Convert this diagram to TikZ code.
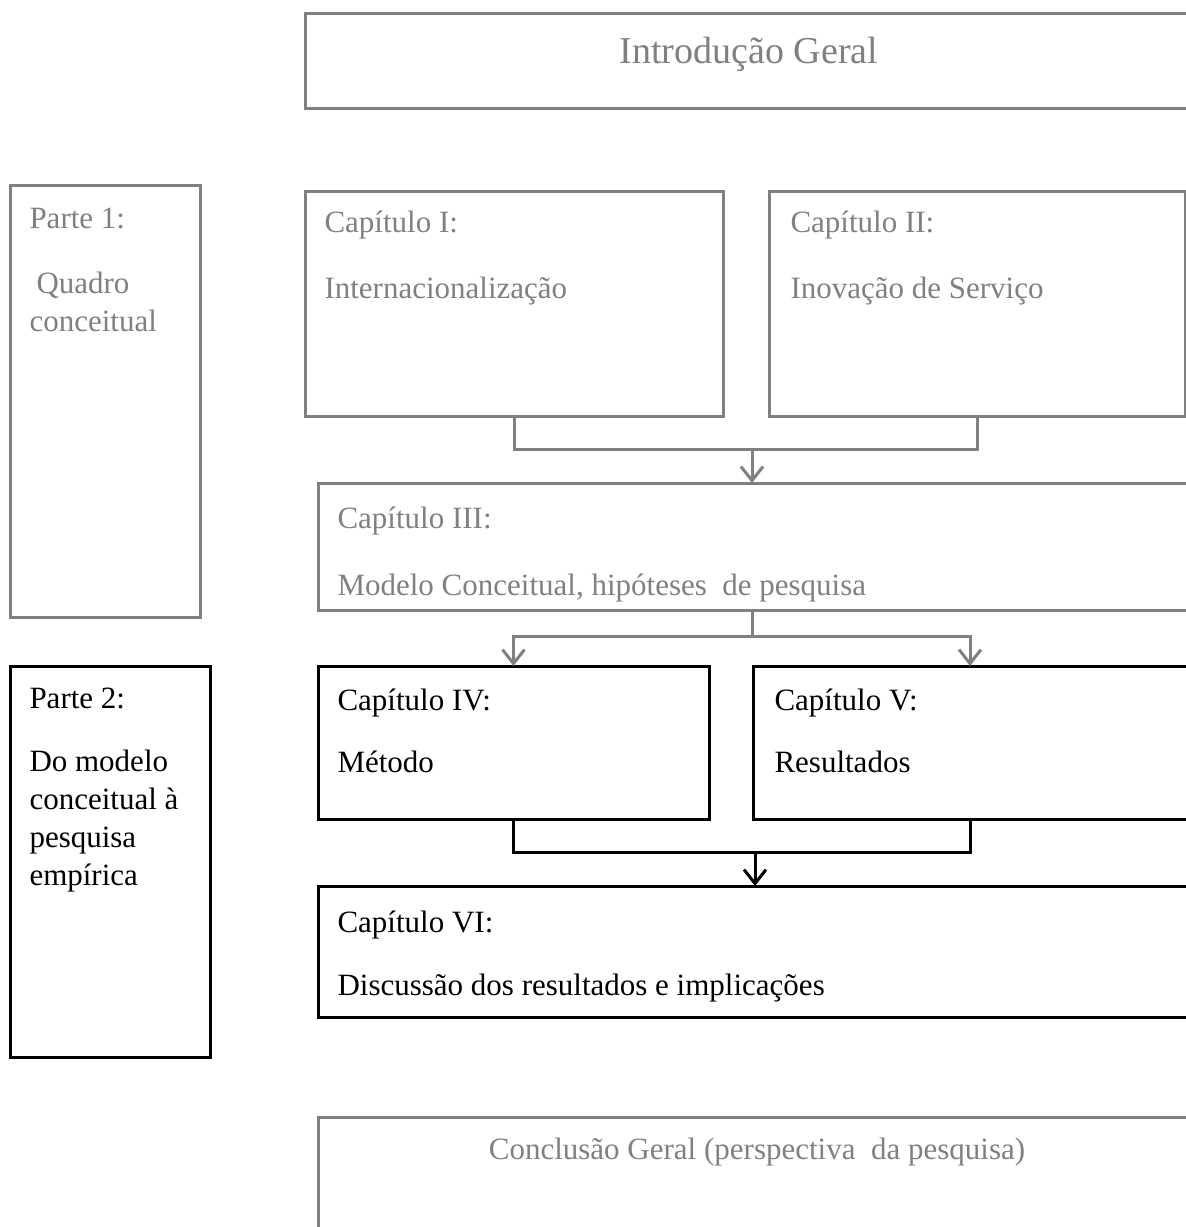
\documentclass[tikz,border=0pt]{standalone}
\usepackage{fontspec}
\setmainfont{Liberation Serif}
\usetikzlibrary{positioning,arrows.meta}
\definecolor{boxgray}{HTML}{808080}

\begin{document}
\begin{tikzpicture}[x=1pt,y=-1pt,line width=3pt,
                >={Straight Barb[length=14pt,width=22pt]},
                gray box/.style={rectangle,draw=boxgray,inner sep=0pt,outer sep=0pt,anchor=north west},
                black box/.style={rectangle,draw=black,inner sep=0pt,outer sep=0pt,anchor=north west},
                txt/.style={anchor=base west,inner sep=0pt,align=left,font=\fontsize{31}{38}\selectfont}]

  \clip (0,0) rectangle (1186,1227);

  \node[gray box,minimum width=950pt,minimum height=95pt] (intro) at (305,13) {};
  \node[gray box,minimum width=190pt,minimum height=432pt] (p1) at (10,185) {};
  \node[gray box,minimum width=418pt,minimum height=225pt] (c1) at (305,191) {};
  \node[gray box,minimum width=416pt,minimum height=225pt] (c2) at (769,191) {};
  \node[gray box,minimum width=900pt,minimum height=127pt] (c3) at (318,483) {};
  \node[black box,minimum width=200pt,minimum height=391pt] (p2) at (10,666) {};
  \node[black box,minimum width=391pt,minimum height=153pt] (c4) at (318,666) {};
  \node[black box,minimum width=434pt,minimum height=153pt] (c5) at (753,666) {};
  \node[black box,minimum width=900pt,minimum height=131pt] (c6) at (318,886) {};
  \node[gray box,minimum width=900pt,minimum height=200pt] (concl) at (318,1117) {};

  \node[txt,anchor=base,text=boxgray,font=\fontsize{38}{44}\selectfont] (tintro) at (749,63) {Introdução Geral};
  \node[txt,text=boxgray] (tp1) at (28,331) {Parte 1:\\[27pt]\hspace{7pt}Quadro\\conceitual};
  \node[txt,text=boxgray] (tc1) at (323,298) {Capítulo I:\\[28pt]Internacionalização};
  \node[txt,text=boxgray] (tc2) at (789,298) {Capítulo II:\\[28pt]Inovação de Serviço};
  \node[txt,text=boxgray] (tc3) at (336,595) {Capítulo III:\\[29pt]Modelo Conceitual, hipóteses\ \ de pesquisa};
  \node[txt] (tp2) at (28,885) {Parte 2:\\[25pt]Do modelo\\conceitual à\\pesquisa\\empírica};
  \node[txt] (tc4) at (336,772) {Capítulo IV:\\[24pt]Método};
  \node[txt] (tc5) at (773,772) {Capítulo V:\\[24pt]Resultados};
  \node[txt] (tc6) at (336,995) {Capítulo VI:\\[25pt]Discussão dos resultados e implicações};
  \node[txt,anchor=base,text=boxgray] (tconcl) at (757,1159) {Conclusão Geral (perspectiva\ \ da pesquisa)};

  \coordinate (j1) at (752,449);
  \coordinate (j2) at (752,636);
  \coordinate (j3) at (755,852);

  \draw[boxgray] (c1.south) |- (j1) -| (c2.south);
  \draw[boxgray,->] (j1) -- (j1 |- c3.north);
  \draw[boxgray] (j2 |- c3.south) -- (j2);
  \draw[boxgray,->] (j2) -| (c4.north);
  \draw[boxgray,->] (j2) -| (c5.north);
  \draw (c4.south) |- (j3) -| (c5.south);
  \draw[->] (j3) -- (j3 |- c6.north);
\end{tikzpicture}
\end{document}
